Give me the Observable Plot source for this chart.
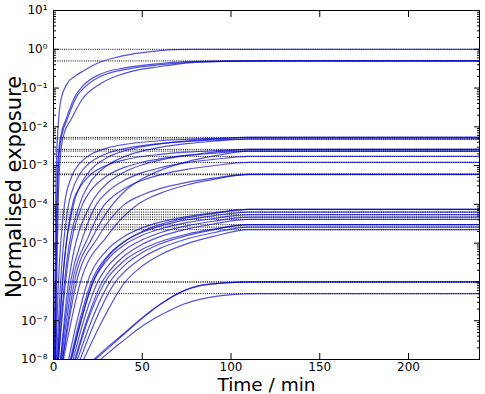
<!DOCTYPE html>
<html>
<head>
<meta charset="utf-8">
<script src="https://cdn.jsdelivr.net/npm/d3@7"></script>
<script src="https://cdn.jsdelivr.net/npm/@observablehq/plot@0.6"></script>
<style>
  html, body { margin: 0; padding: 0; background: #ffffff; }
  #chart { width: 485px; height: 394px; }
</style>
</head>
<body>
<div id="chart"></div>
<script>
// ---- axis ticks ----
const xTicks = [0, 50, 100, 150, 200];
const yMajorTicks = [1e-8, 1e-7, 1e-6, 1e-5, 1e-4, 1e-3, 1e-2, 1e-1, 1, 10];
const minorMultipliers = [2, 3, 4, 5, 6, 7, 8, 9];

// ---- asymptote levels (dotted reference lines) ----
const levels = [1, 0.5, 5.33e-3, 4.85e-3, 2.62e-3, 2.37e-3, 1.73e-3, 1.21e-3, 5.93e-4,
  7.43e-5, 6.33e-5, 5.43e-5, 4.71e-5, 4.11e-5, 3.0e-5, 2.6e-5, 2.23e-5, 1e-6, 5e-7];
const boldLevels = [5.93e-4, 1e-6];

// ---- curves: [time (min), normalised exposure] ----
const topCurves = [
  [[0.5,1e-8],[0.8,1e-6],[1.2,1e-4],[1.8,2e-3],[2.6,1e-2],[4,0.045],[7.7,0.13],[12,0.2],[17,0.28],[26.5,0.47],[36,0.63],[50,0.82],[62,0.94],[75,0.99],[90,1],[240,1]],
  [[0.8,1e-8],[1.2,1e-6],[1.8,1e-4],[2.8,2e-3],[4.5,7e-3],[6.8,0.0146],[12,0.06],[17,0.12],[26.5,0.23],[40,0.33],[60,0.43],[80,0.49],[100,0.5],[240,0.5]],
  [[0.9,1e-8],[1.4,1e-6],[2.1,1e-4],[3.2,2e-3],[5,7e-3],[7.5,0.0146],[13,0.06],[18,0.11],[26.5,0.2],[40,0.3],[60,0.4],[80,0.47],[100,0.495],[120,0.5],[240,0.5]],
  [[1.2,1e-8],[1.8,1e-6],[2.6,1e-4],[4,2e-3],[6,6.8e-3],[9.6,0.0146],[16,0.05],[26.5,0.13],[40,0.24],[60,0.36],[80,0.46],[100,0.49],[120,0.5],[240,0.5]]
];

const midCurves = [
  [[1.1,1e-8],[2.8,1e-6],[6.2,1e-4],[10,4.95e-4],[15,1.18e-3],[20,1.83e-3],[30,2.83e-3],[40,3.52e-3],[50,4.01e-3],[60,4.38e-3],[75,4.78e-3],[90,5.06e-3],[110,5.33e-3],[240,5.33e-3]],
  [[1.7,1e-8],[4.0,1e-6],[8.5,1e-4],[10,1.91e-4],[15,6.25e-4],[20,1.13e-3],[30,2.05e-3],[40,2.75e-3],[50,3.29e-3],[60,3.71e-3],[75,4.17e-3],[90,4.52e-3],[110,4.85e-3],[240,4.85e-3]],
  [[2.3,1e-8],[5.1,1e-6],[11.3,1e-4],[15,3.01e-4],[20,6.92e-4],[30,1.59e-3],[40,2.41e-3],[50,3.09e-3],[60,3.65e-3],[75,4.32e-3],[90,4.82e-3],[110,5.33e-3],[240,5.33e-3]],
  [[2.8,1e-8],[6.2,1e-6],[14.7,1e-4],[20,3.3e-4],[30,9.88e-4],[40,1.71e-3],[50,2.37e-3],[60,2.95e-3],[75,3.67e-3],[90,4.25e-3],[110,4.85e-3],[240,4.85e-3]],
  [[2.3,1e-8],[5.1,1e-6],[10.7,1e-4],[15,2.81e-4],[20,5.37e-4],[30,1.02e-3],[40,1.41e-3],[50,1.72e-3],[60,1.95e-3],[75,2.22e-3],[90,2.42e-3],[110,2.62e-3],[240,2.62e-3]],
  [[2.8,1e-8],[6.8,1e-6],[16.4,1e-4],[20,1.97e-4],[30,5.42e-4],[40,9.0e-4],[50,1.22e-3],[60,1.49e-3],[75,1.83e-3],[90,2.09e-3],[110,2.37e-3],[240,2.37e-3]],
  [[4.0,1e-8],[8.5,1e-6],[20.9,1e-4],[25,1.95e-4],[30,3.41e-4],[40,6.87e-4],[50,1.05e-3],[60,1.38e-3],[75,1.83e-3],[90,2.21e-3],[110,2.62e-3],[240,2.62e-3]],
  [[4.0,1e-8],[9.6,1e-6],[16.5,1.41e-5],[24.2,1e-4],[30,2.02e-4],[40,4.22e-4],[50,6.57e-4],[60,8.82e-4],[75,1.19e-3],[90,1.44e-3],[110,1.73e-3],[240,1.73e-3]],
  [[4.5,1e-8],[10.7,1e-6],[19.5,1.41e-5],[28.8,1e-4],[34,1.68e-4],[40,2.58e-4],[50,4.19e-4],[60,5.79e-4],[75,8.0e-4],[90,9.93e-4],[110,1.21e-3],[240,1.21e-3]],
  [[5.1,1e-8],[11.8,1e-6],[22,1.41e-5],[33.3,1e-4],[40,2.15e-4],[50,4.56e-4],[60,7.55e-4],[75,1.25e-3],[90,1.75e-3],[110,2.37e-3],[240,2.37e-3]],
  [[5.1,1e-8],[13.0,1e-6],[25,1.4e-5],[40.0,1e-4],[50,1.75e-4],[60,2.54e-4],[75,3.69e-4],[90,4.73e-4],[110,5.93e-4],[240,5.93e-4]],
  [[5.6,1e-8],[15.2,1e-6],[30,1.48e-5],[47.4,1e-4],[55,1.55e-4],[60,1.93e-4],[67,2.5e-4],[75,3.16e-4],[90,4.4e-4],[110,5.93e-4],[240,5.93e-4]]
];

const lowCurves = [
  [[8.5,1e-8],[13.3,1e-7],[19.2,1e-6],[30,6.56e-6],[40,1.51e-5],[50,2.49e-5],[60,3.48e-5],[75,4.86e-5],[90,6.07e-5],[110,7.43e-5],[240,7.43e-5]],
  [[9.5,1e-8],[14.7,1e-7],[21.3,1e-6],[30,4.45e-6],[40,1.11e-5],[50,1.92e-5],[60,2.76e-5],[75,3.98e-5],[90,5.08e-5],[110,6.33e-5],[240,6.33e-5]],
  [[10,1e-8],[15.4,1e-7],[22.4,1e-6],[30,3.56e-6],[40,9.1e-6],[50,1.6e-5],[60,2.32e-5],[75,3.37e-5],[90,4.33e-5],[110,5.43e-5],[240,5.43e-5]],
  [[11,1e-8],[17,1e-7],[24.9,1e-6],[30,2.35e-6],[40,6.59e-6],[50,1.22e-5],[60,1.85e-5],[75,2.79e-5],[90,3.67e-5],[110,4.71e-5],[240,4.71e-5]],
  [[12,1e-8],[18.7,1e-7],[27.4,1e-6],[30,1.53e-6],[40,4.74e-6],[50,9.33e-6],[60,1.47e-5],[75,2.31e-5],[90,3.12e-5],[110,4.11e-5],[240,4.11e-5]],
  [[12.5,1e-8],[19.3,1e-7],[29,1e-6],[40,3.57e-6],[50,6.97e-6],[60,1.09e-5],[75,1.7e-5],[90,2.29e-5],[110,3.0e-5],[240,3.0e-5]],
  [[15,1e-8],[23.6,1e-7],[34.9,1e-6],[40,1.83e-6],[50,4.22e-6],[60,7.35e-6],[75,1.28e-5],[90,1.86e-5],[110,2.6e-5],[240,2.6e-5]],
  [[17,1e-8],[27.5,1e-7],[40.4,1e-6],[50,2.57e-6],[60,4.97e-6],[75,9.62e-6],[90,1.49e-5],[110,2.23e-5],[240,2.23e-5]],
  [[10,1e-8],[15.6,1e-7],[22.2,1e-6],[30,4.08e-6],[40,1.11e-5],[50,2.01e-5],[60,3.0e-5],[75,4.48e-5],[90,5.83e-5],[110,7.43e-5],[240,7.43e-5]],
  [[13.5,1e-8],[21.4,1e-7],[31.8,1e-6],[40,2.67e-6],[50,5.71e-6],[60,9.48e-6],[75,1.57e-5],[90,2.21e-5],[110,3.0e-5],[240,3.0e-5]]
];

const bottomCurves = [
  [[22.7,1e-8],[30,2e-8],[39.6,4.7e-8],[50,1.2e-7],[60.3,2.7e-7],[73.5,6e-7],[82,8e-7],[92.3,9.2e-7],[105,9.9e-7],[115,1e-6],[240,1e-6]],
  [[23.5,1e-8],[31,2e-8],[40,4.6e-8],[50,1.15e-7],[60,2.6e-7],[73.5,5.9e-7],[82,7.9e-7],[92,9.1e-7],[105,9.9e-7],[115,1e-6],[240,1e-6]],
  [[26.5,1e-8],[33,1.8e-8],[40.6,3.4e-8],[47,5.8e-8],[54.7,1e-7],[64,1.7e-7],[73.5,2.7e-7],[83,3.6e-7],[92.3,4.3e-7],[102,4.8e-7],[115,5e-7],[240,5e-7]]
];

const xLabel = "Time / min";
const yLabel = "Normalised exposure";

// ---- drawing ----
const supMap = {"-": "\u207B", "0": "\u2070", "1": "\u00B9", "2": "\u00B2", "3": "\u00B3",
  "4": "\u2074", "5": "\u2075", "6": "\u2076", "7": "\u2077", "8": "\u2078", "9": "\u2079"};
const powLabel = d => "10" + String(Math.round(Math.log10(d))).split("").map(c => supMap[c]).join("");
const yMinorTicks = yMajorTicks.slice(0, -1).flatMap(p => minorMultipliers.map(m => m * p));

const allCurves = [...topCurves, ...midCurves, ...lowCurves, ...bottomCurves];
const blue = "#0000cc";

const marks = [
  Plot.ruleY(levels, {
    stroke: "black",
    strokeWidth: d => boldLevels.includes(d) ? 1.6 : 1,
    strokeDasharray: "1,1.2"
  }),
  ...allCurves.map(c => Plot.line(c, {
    x: d => d[0], y: d => d[1],
    stroke: blue, strokeOpacity: 0.68, strokeWidth: 1.2,
    curve: "monotone-x", clip: true
  })),
  // ticks (inward), all four sides
  Plot.axisX({anchor: "bottom", ticks: xTicks, tickSize: -6, tickFormat: () => "", label: null}),
  Plot.axisX({anchor: "top", ticks: xTicks, tickSize: -6, tickFormat: () => "", label: null}),
  Plot.axisY({anchor: "left", ticks: yMajorTicks, tickSize: -6, tickFormat: () => "", label: null}),
  Plot.axisY({anchor: "right", ticks: yMajorTicks, tickSize: -6, tickFormat: () => "", label: null}),
  Plot.axisY({anchor: "left", ticks: yMinorTicks, tickSize: -3, tickFormat: () => "", label: null}),
  Plot.axisY({anchor: "right", ticks: yMinorTicks, tickSize: -3, tickFormat: () => "", label: null}),
  // tick labels
  Plot.axisX({anchor: "bottom", ticks: xTicks, tickSize: 0, tickPadding: 3, tickFormat: d => String(d), label: null, fontSize: 12}),
  Plot.axisY({anchor: "left", ticks: yMajorTicks, tickSize: 0, tickPadding: 6, tickFormat: powLabel, label: null, fontSize: 12}),
  // axis titles
  Plot.text([xLabel], {frameAnchor: "bottom", lineAnchor: "middle", textAnchor: "middle", dy: 26, fontSize: 18.5, fill: "black"}),
  Plot.text([yLabel], {frameAnchor: "left", lineAnchor: "middle", textAnchor: "middle", dx: -39, dy: 2, rotate: -90, fontSize: 21, fill: "black"}),
  Plot.frame({stroke: "black", strokeWidth: 1})
];

const chart = Plot.plot({
  width: 485,
  height: 394,
  marginLeft: 53,
  marginRight: 6,
  marginTop: 10,
  marginBottom: 35,
  style: {fontFamily: "'DejaVu Sans', sans-serif", fontSize: "12px", background: "#ffffff", color: "black"},
  x: {domain: [0, 240]},
  y: {type: "log", domain: [1e-8, 10]},
  marks
});
document.getElementById("chart").append(chart);
</script>
</body>
</html>
